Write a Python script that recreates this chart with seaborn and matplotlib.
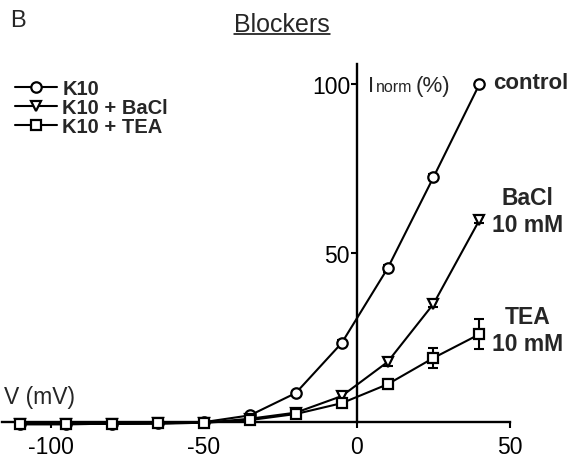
import numpy as np
import pandas as pd
import seaborn as sns
import matplotlib.pyplot as plt
from matplotlib.lines import Line2D

# Membrane potential steps (mV)
voltaje = [-110, -95, -80, -65, -50, -35, -20, -5, 10, 25, 40]

# Normalised current (%) per condition
i_control = [-0.6, -0.6, -0.5, -0.4, 0.0, 2.0, 8.6, 23.4, 45.5, 72.5, 100.0]
i_bacl = [-0.6, -0.6, -0.5, -0.4, -0.2, 1.0, 2.8, 7.7, 17.8, 35.0, 59.8]
i_tea = [-0.6, -0.6, -0.5, -0.4, -0.2, 0.6, 2.4, 5.6, 11.2, 19.0, 26.0]

err_control = [0.3, 0.3, 0.3, 0.3, 0.3, 0.4, 0.6, 0.8, 1.0, 0.8, 0.5]
err_bacl = [0.3, 0.3, 0.3, 0.3, 0.3, 0.3, 0.4, 1.0, 1.2, 1.0, 1.0]
err_tea = [0.3, 0.3, 0.3, 0.3, 0.3, 0.3, 0.4, 0.8, 1.5, 3.0, 4.5]

condiciones = ["K10", "K10 + BaCl", "K10 + TEA"]
marcadores = {"K10": "o", "K10 + BaCl": "v", "K10 + TEA": "s"}

df = pd.DataFrame({
    "V": voltaje * 3,
    "I": i_control + i_bacl + i_tea,
    "err": err_control + err_bacl + err_tea,
    "cond": np.repeat(condiciones, len(voltaje)),
})

sns.set_theme(style="ticks")
plt.rcParams["font.family"] = ["Liberation Sans", "DejaVu Sans"]
plt.rcParams["axes.unicode_minus"] = False

fig = plt.figure(figsize=(5.75, 4.6), dpi=100)
ax = fig.add_axes([2 / 575, 20 / 460, 508 / 575, 375 / 460])

# error bars first so markers sit on top
for c in condiciones:
    d = df[df["cond"] == c]
    ax.errorbar(d["V"], d["I"], yerr=d["err"], fmt="none", ecolor="black",
                elinewidth=1.5, capsize=3.8, capthick=1.5, zorder=2)

sns.lineplot(data=df, x="V", y="I", style="cond", markers=marcadores,
             dashes=False, color="black", linewidth=1.5, markersize=7.5,
             markerfacecolor="white", markeredgecolor="black",
             markeredgewidth=1.6, ax=ax, zorder=3)

ax.set_xlim(-116, 50)
ax.set_ylim(-5, 106)
ax.spines["left"].set_position(("data", 0))
ax.spines["bottom"].set_position(("data", 0))
ax.spines["right"].set_visible(False)
ax.spines["top"].set_visible(False)
ax.spines["left"].set_bounds(0, 106)
ax.spines["bottom"].set_bounds(-116, 50)
for s in ["left", "bottom"]:
    ax.spines[s].set_linewidth(1.7)
    ax.spines[s].set_color("black")

ax.set_xticks([-100, -50, 0, 50])
ax.set_yticks([50, 100])
ax.tick_params(axis="both", labelsize=16.5, width=1.5, length=4, color="black",
               labelcolor="black", direction="out")
ax.tick_params(axis="x", pad=5)
ax.tick_params(axis="y", pad=1)
ax.set_xlabel("")
ax.set_ylabel("")
ax.patch.set_visible(False)

# leyenda
handles, labels = ax.get_legend_handles_labels()
leg = ax.legend(handles, labels, loc="upper left", bbox_to_anchor=(7 / 575, 1 - 72 / 460),
                bbox_transform=fig.transFigure, frameon=False,
                prop={"weight": "bold", "size": 14.5}, handlelength=2.1,
                handletextpad=0.25, labelspacing=0.0, borderaxespad=0)

# textos
ax.text(-115.5, 7.7, "V (mV)", fontsize=16.5, va="center", ha="left")
ax.text(3.5, 98, "I", fontsize=16, va="baseline", ha="left")
ax.text(6.2, 98, "norm", fontsize=11.5, va="baseline", ha="left")
ax.text(19.0, 98, "(%)", fontsize=16, va="baseline", ha="left")
ax.text(44.4, 100.6, "control", fontsize=16, fontweight="bold", va="center",
        ha="left", clip_on=False)
ax.text(55.8, 62.4, "BaCl\n10 mM", fontsize=16.5, fontweight="bold", va="center",
        ha="center", multialignment="center", clip_on=False)
ax.text(55.8, 27.2, "TEA\n10 mM", fontsize=16.5, fontweight="bold", va="center",
        ha="center", multialignment="center", clip_on=False)

titulo = fig.text(282 / 575, 1 - 32 / 460, "Blockers", fontsize=18,
                  ha="center", va="baseline")
fig.text(10 / 575, 1 - 27 / 460, "B", fontsize=17, ha="left", va="baseline")

# subrayado del titulo
fig.canvas.draw()
bb = titulo.get_window_extent().transformed(fig.transFigure.inverted())
y_sub = 1 - 35 / 460
fig.add_artist(Line2D([bb.x0, bb.x1], [y_sub, y_sub], color="black", lw=1.1,
                      transform=fig.transFigure))

fig.savefig("out.png", dpi=100)
